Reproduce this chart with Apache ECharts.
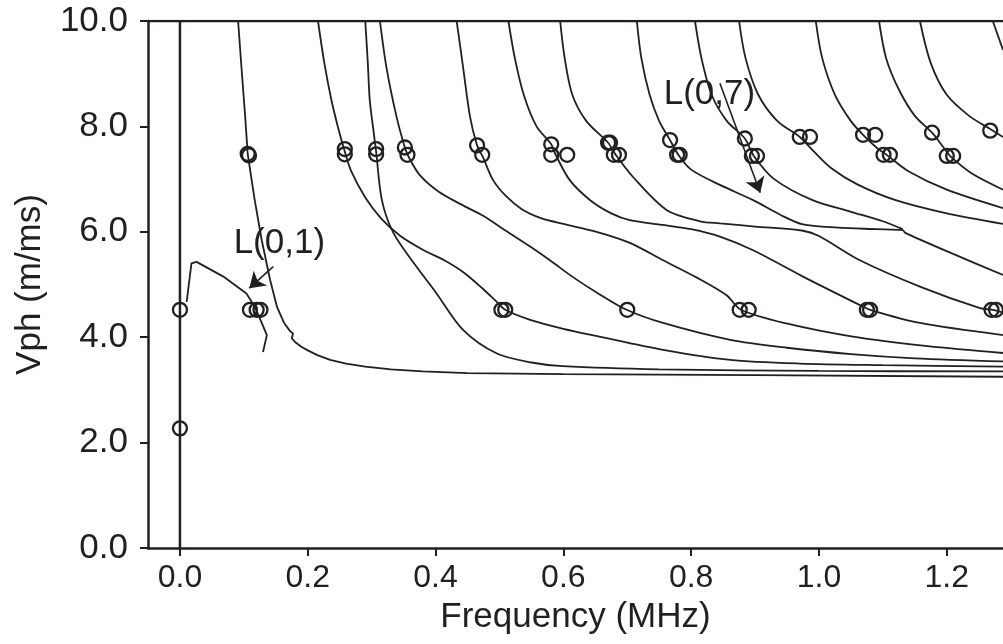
<!DOCTYPE html>
<html><head><meta charset="utf-8">
<script src="https://cdn.jsdelivr.net/npm/echarts@6/dist/echarts.min.js"></script>
<style>html,body{margin:0;padding:0;background:#fff}#c{width:1003px;height:644px}</style>
</head><body><div id="c"></div>
<script>
// ---- tick labels ----
const xTicks = [0, 0.2, 0.4, 0.6, 0.8, 1.0, 1.2];
const yTicks = [0, 2, 4, 6, 8, 10];

// ---- dispersion curves (frequency MHz, Vph m/ms) ----
const mode1 = [[0.0105,4.67],[0.018,5.40],[0.026,5.43],[0.068,5.15],[0.104,4.83],[0.117,4.58],[0.126,4.33],[0.136,4.04],[0.130,3.72]];
const mode2 = [[0.091,10],[0.097,9.0],[0.102,8.2],[0.106,7.48],[0.117,6.60],[0.128,5.84],[0.141,5.09],[0.152,4.57],[0.163,4.27],[0.172,4.12],[0.177,4.07],[0.175,3.98],[0.18,3.91],[0.19,3.82],[0.20,3.75],[0.215,3.66],[0.235,3.57],[0.26,3.50],[0.29,3.44],[0.33,3.39],[0.38,3.35],[0.45,3.32],[0.6,3.30],[0.9,3.28],[1.288,3.25]];
const mode3 = [[0.216,10],[0.226,9.2],[0.237,8.5],[0.247,8.0],[0.258,7.52],[0.268,7.15],[0.29,6.65],[0.315,6.25],[0.345,5.92],[0.38,5.66],[0.415,5.45],[0.445,5.22],[0.474,4.92],[0.495,4.68],[0.509,4.52],[0.548,4.33],[0.60,4.16],[0.653,4.02],[0.756,3.76],[0.861,3.57],[0.97,3.50],[1.1,3.47],[1.288,3.44]];
const mode4 = [[0.290,10],[0.294,9.2],[0.297,8.5],[0.302,8.0],[0.307,7.52],[0.316,6.60],[0.334,5.98],[0.370,5.34],[0.401,4.84],[0.443,4.14],[0.496,3.69],[0.55,3.52],[0.599,3.45],[0.75,3.39],[1.0,3.36],[1.288,3.35]];
const mode5 = [[0.313,10],[0.323,9.13],[0.339,8.18],[0.352,7.6],[0.358,7.42],[0.375,7.08],[0.405,6.76],[0.44,6.52],[0.475,6.30],[0.51,6.02],[0.548,5.72],[0.58,5.45],[0.615,5.14],[0.652,4.85],[0.699,4.52],[0.756,4.27],[0.861,3.95],[0.95,3.80],[1.05,3.68],[1.15,3.60],[1.288,3.54]];
const mode6 = [[0.433,10],[0.443,9.13],[0.454,8.18],[0.465,7.64],[0.474,7.42],[0.49,6.98],[0.51,6.68],[0.535,6.43],[0.565,6.26],[0.60,6.15],[0.652,6.0],[0.704,5.79],[0.756,5.46],[0.809,5.13],[0.855,4.80],[0.878,4.52],[0.949,4.26],[1.053,4.01],[1.17,3.83],[1.288,3.70]];
const mode7 = [[0.514,10],[0.524,9.3],[0.538,8.6],[0.558,8.0],[0.581,7.66],[0.588,7.46],[0.610,6.98],[0.642,6.60],[0.675,6.35],[0.704,6.22],[0.756,6.13],[0.80,6.05],[0.845,5.91],[0.897,5.65],[0.975,5.15],[1.064,4.61],[1.08,4.52],[1.158,4.27],[1.288,4.04]];
const mode8 = [[0.595,10],[0.602,9.3],[0.614,8.6],[0.636,8.1],[0.670,7.69],[0.682,7.46],[0.709,7.04],[0.762,6.41],[0.814,6.20],[0.845,6.16],[0.90,6.10],[0.975,6.02],[1.0,5.92],[1.064,5.46],[1.158,4.96],[1.252,4.55],[1.272,4.52],[1.288,4.47]];
const mode9 = [[0.715,10],[0.722,9.3],[0.735,8.6],[0.75,8.1],[0.767,7.74],[0.780,7.46],[0.80,7.18],[0.845,6.89],[0.897,6.60],[0.94,6.32],[0.975,6.14],[1.03,6.08],[1.09,6.05],[1.131,6.03],[1.135,5.98],[1.21,5.58],[1.288,5.18]];
const mode10 = [[0.806,10],[0.816,9.3],[0.832,8.6],[0.856,8.1],[0.884,7.77],[0.898,7.44],[0.93,7.0],[0.99,6.6],[1.05,6.38],[1.10,6.2],[1.131,6.05]];
const mode11 = [[0.875,10],[0.885,9.3],[0.905,8.6],[0.935,8.1],[0.97,7.8],[0.99,7.55],[1.02,7.2],[1.06,6.9],[1.12,6.6],[1.2,6.35],[1.288,6.15]];
const mode12 = [[0.995,10],[1.005,9.3],[1.025,8.6],[1.05,8.1],[1.069,7.84],[1.09,7.6],[1.106,7.46],[1.14,7.15],[1.2,6.8],[1.288,6.45]];
const mode13 = [[1.094,10],[1.105,9.3],[1.125,8.7],[1.15,8.2],[1.177,7.88],[1.195,7.6],[1.205,7.44],[1.24,7.1],[1.288,6.8]];
const mode14 = [[1.158,10],[1.175,9.2],[1.2,8.6],[1.235,8.2],[1.268,7.95],[1.288,7.8]];
const mode15 = [[1.272,10],[1.288,9.45]];
const modes = [mode1,mode2,mode3,mode4,mode5,mode6,mode7,mode8,mode9,mode10,mode11,mode12,mode13,mode14,mode15];

// ---- measured points (open circles) ----
const measured = [
 [0,4.52],[0,2.27],
 [0.106,7.48],[0.108,7.45],
 [0.1095,4.52],[0.12,4.52],[0.126,4.52],
 [0.258,7.57],[0.258,7.47],
 [0.307,7.57],[0.307,7.47],
 [0.352,7.6],[0.356,7.46],
 [0.465,7.64],[0.473,7.46],
 [0.581,7.66],[0.581,7.46],[0.606,7.46],
 [0.670,7.69],[0.673,7.69],[0.679,7.46],[0.687,7.46],
 [0.767,7.74],[0.778,7.46],[0.782,7.46],
 [0.884,7.77],[0.895,7.44],[0.903,7.44],
 [0.970,7.8],[0.986,7.8],
 [1.069,7.84],[1.088,7.84],[1.101,7.46],[1.111,7.46],
 [1.177,7.88],[1.200,7.44],[1.210,7.44],
 [1.268,7.92],
 [0.503,4.52],[0.509,4.52],[0.700,4.52],[0.876,4.52],[0.890,4.52],
 [1.075,4.52],[1.080,4.52],[1.270,4.52],[1.277,4.52]
];

// ---- annotations ----
const labelL01 = [0.084, 5.78];
const arrowL01 = [[0.146,5.34],[0.1085,4.93]];
const labelL07 = [0.757, 8.6];
const arrowL07 = [[0.845,8.82],[0.908,6.74]];

const INK = '#231f20';
const xMin = -0.05, xMax = 1.288;

const series = [];
modes.forEach((m, i) => {
  series.push({type:'line', data:m, showSymbol:false, smooth:(i<2?0:0.3), silent:true,
    lineStyle:{color:INK, width:1.8}, z:3});
});
// top frame line and zero line
series.push({type:'line', data:[[xMin,10],[xMax,10]], showSymbol:false, silent:true, lineStyle:{color:INK,width:2.5}});
series.push({type:'line', data:[[0,0],[0,10]], showSymbol:false, silent:true, lineStyle:{color:INK,width:2.5}});
series.push({type:'scatter', data:measured, symbol:'circle', symbolSize:14, silent:true, z:5,
  itemStyle:{color:'rgba(255,255,255,0)', borderColor:INK, borderWidth:2.3, opacity:1}});
series.push({type:'lines', coordinateSystem:'cartesian2d', silent:true, z:6,
  symbol:['none','arrow'], symbolSize:[0,15],
  lineStyle:{color:INK, width:1.6, opacity:1},
  data:[{coords:arrowL01},{coords:arrowL07}]});
series.push({type:'scatter', symbolSize:0, silent:true, z:7,
  itemStyle:{opacity:1},
  data:[{value:labelL01, name:'L(0,1)'},{value:labelL07, name:'L(0,7)'}],
  label:{show:true, position:'right', distance:0, formatter:'{b}', color:INK, fontSize:35,
    fontFamily:'Liberation Sans, Arial, sans-serif'}});

const chart = echarts.init(document.getElementById('c'), null, {renderer:'canvas'});
chart.setOption({
  animation:false,
  backgroundColor:'#fff',
  grid:{left:148, right:0, top:21, bottom:96, containLabel:false},
  xAxis:{type:'value', min:xMin, max:xMax,
    name:'Frequency (MHz)', nameLocation:'middle', nameGap:52,
    nameTextStyle:{color:INK, fontSize:35, fontFamily:'Liberation Sans, Arial'},
    axisLine:{show:true, onZero:false, lineStyle:{color:INK, width:2.5}},
    axisTick:{show:true, inside:false, length:8, customValues:xTicks, lineStyle:{color:INK,width:2}},
    axisLabel:{customValues:xTicks, margin:14, color:INK, fontSize:32,
      fontFamily:'Liberation Sans, Arial', formatter:v=>v.toFixed(1)},
    splitLine:{show:false}},
  yAxis:{type:'value', min:0, max:10, interval:2,
    name:'Vph (m/ms)', nameLocation:'middle', nameGap:100, nameRotate:90,
    nameTextStyle:{color:INK, fontSize:35, fontFamily:'Liberation Sans, Arial'},
    axisLine:{show:true, onZero:false, lineStyle:{color:INK, width:2.5}},
    axisTick:{show:true, inside:false, length:8, lineStyle:{color:INK,width:2}},
    axisLabel:{margin:20, color:INK, fontSize:35, fontFamily:'Liberation Sans, Arial',
      formatter:v=>v.toFixed(1)},
    splitLine:{show:false}},
  series:series
});
</script></body></html>
